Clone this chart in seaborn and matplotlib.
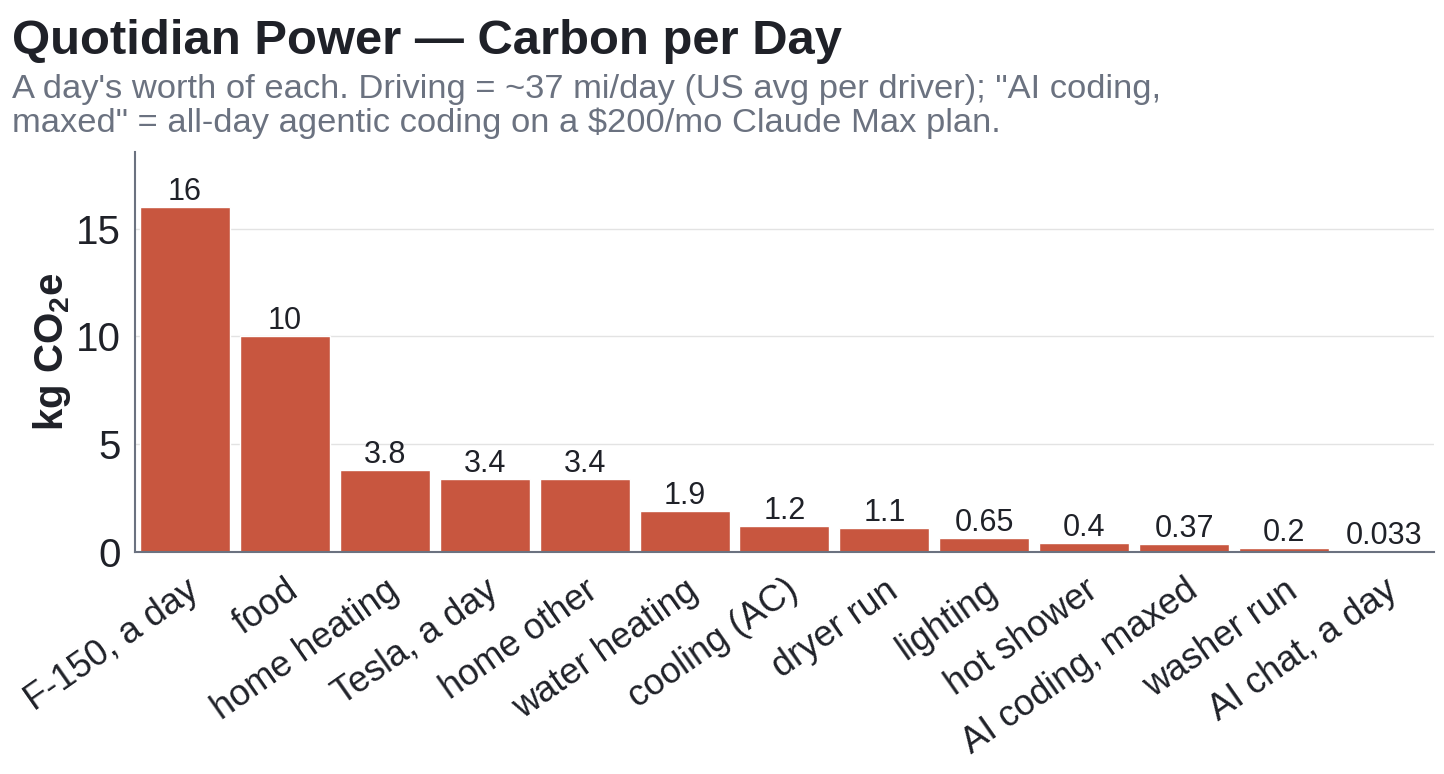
import pandas as pd
import matplotlib.pyplot as plt
import seaborn as sns

# datos
categorias = ["F-150, a day", "food", "home heating", "Tesla, a day", "home other",
              "water heating", "cooling (AC)", "dryer run", "lighting", "hot shower",
              "AI coding, maxed", "washer run", "AI chat, a day"]
valores = [16, 10, 3.8, 3.4, 3.4, 1.9, 1.2, 1.1, 0.65, 0.4, 0.37, 0.2, 0.033]
etiquetas = ["16", "10", "3.8", "3.4", "3.4", "1.9", "1.2", "1.1", "0.65", "0.4", "0.37", "0.2", "0.033"]

df = pd.DataFrame({"actividad": categorias, "kg": valores})

sns.set_style("white")
plt.rcParams['font.family'] = ['Liberation Sans', 'DejaVu Sans']
plt.rcParams['mathtext.default'] = 'regular'

texto = "#1f2128"
gris = "#6b7280"

fig = plt.figure(figsize=(14.44, 7.74), dpi=100)
ax = fig.add_axes([0.0935, 0.2868, 0.8995, 0.5168])

sns.barplot(data=df, x="actividad", y="kg", color="#c8563f", saturation=1, width=0.9, ax=ax)
ax.bar_label(ax.containers[0], labels=etiquetas, padding=0, fontsize=22, color=texto)

ax.set_ylim(0, 18.56)
ax.set_xlim(-0.5, len(categorias) - 0.5)
ax.set_yticks([0, 5, 10, 15])
ax.yaxis.grid(True, color="#e3e3e3", linewidth=1)
ax.set_axisbelow(True)

for lado in ["top", "right"]:
    ax.spines[lado].set_visible(False)
for lado in ["left", "bottom"]:
    ax.spines[lado].set_color(gris)
    ax.spines[lado].set_linewidth(1.5)

ax.tick_params(axis="y", labelsize=29, colors=gris, labelcolor=texto, length=7, width=1.5, pad=3)
ax.tick_params(axis="x", labelsize=26, colors=gris, labelcolor=texto, length=8, width=1.5, pad=7)
plt.setp(ax.get_xticklabels(), rotation=35, ha="right", rotation_mode="anchor")

ax.set_xlabel("")
ax.set_ylabel("kg CO$_2$e", fontsize=29, fontweight="bold", color=texto, labelpad=2)

fig.text(0.008, 0.975, "Quotidian Power \u2014 Carbon per Day", fontsize=35.3, fontweight="bold",
         color=texto, va="top")
fig.text(0.008, 0.905, "A day's worth of each. Driving = ~37 mi/day (US avg per driver); \"AI coding,\n"
         "maxed\" = all-day agentic coding on a $200/mo Claude Max plan.",
         fontsize=24.8, color=gris, va="top", linespacing=1.12)

fig.savefig("out.png", dpi=100)
